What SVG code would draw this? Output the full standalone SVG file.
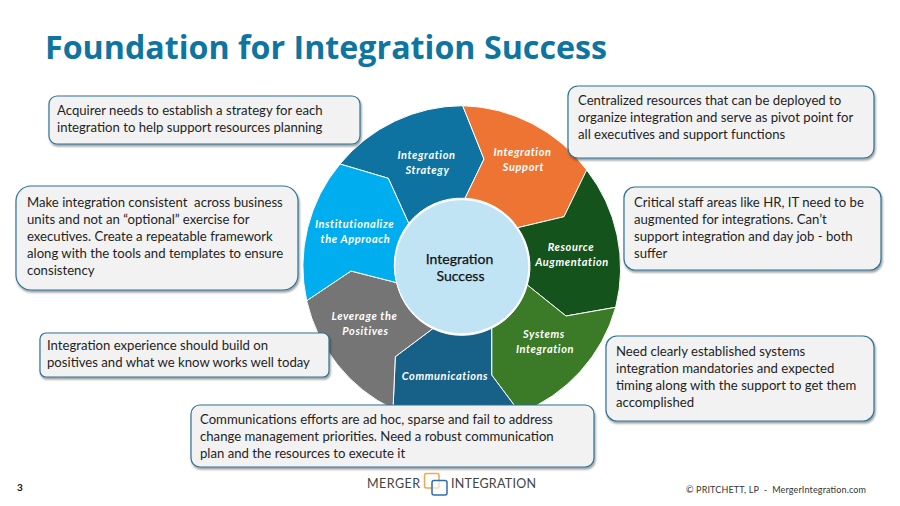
<svg xmlns="http://www.w3.org/2000/svg" width="900" height="506" viewBox="0 0 900 506">
<style>
text{font-family:"Lato","Liberation Sans",sans-serif}
.t{font-size:13.15px;fill:#1f1f1f}
.box{fill:#f2f2f2;stroke:#2f7296;stroke-width:1.2;filter:url(#sh)}
.seg{stroke:#fff;stroke-width:1}
.w{font-size:11px;font-weight:700;font-style:italic;fill:#fff;text-anchor:middle;letter-spacing:.6px}
.c{font-size:14px;fill:#111;stroke:#111;stroke-width:.25;text-anchor:middle}
</style>
<defs><filter id="sh" x="-5%" y="-10%" width="110%" height="125%"><feDropShadow dx="1" dy="2" stdDeviation="1.2" flood-color="#000" flood-opacity=".4"/></filter></defs>
<rect width="900" height="506" fill="#fff"/>
<text x="45" y="59" font-size="33" font-weight="700" fill="#0e75a0" style="font-family:'Open Sans',sans-serif" textLength="562" lengthAdjust="spacingAndGlyphs">Foundation for Integration Success</text>
<g id="connectors"/>
<g id="wheel">
<g id="seg-strategy"><path class="seg" fill="#0e73a0" d="M340 164A159.5 159.5 0 0 1 462.7 105.7L484 159L465 198.3A67 67 0 0 0 408.7 223.3L388.3 178.3Z"/><text class="w"><tspan x="426.5" y="159">Integration</tspan><tspan x="427.5" y="174">Strategy</tspan></text></g>
<g id="seg-support"><path class="seg" fill="#ed7433" d="M462.7 105.7A159.5 159.5 0 0 1 586.7 170L564 216.7L517.7 227.7A67 67 0 0 0 465 198.3L484 159Z"/><text class="w"><tspan x="522.5" y="156">Integration</tspan><tspan x="523.5" y="171">Support</tspan></text></g>
<g id="seg-resource"><path class="seg" fill="#14531c" d="M586.7 170A159.5 159.5 0 0 1 615.7 307.3L566 316L527.3 285A67 67 0 0 0 517.7 227.7L564 216.7Z"/><text class="w"><tspan x="571" y="251">Resource</tspan><tspan x="572" y="266">Augmentation</tspan></text></g>
<g id="seg-systems"><path class="seg" fill="#3b7a26" d="M615.7 307.3A159.5 159.5 0 0 1 520 413L491.7 375V328.3A67 67 0 0 0 527.3 285L566 316Z"/><text class="w"><tspan x="544" y="338">Systems</tspan><tspan x="545" y="353">Integration</tspan></text></g>
<g id="seg-communications"><path class="seg" fill="#176088" d="M520 413A159.5 159.5 0 0 1 393 409L395.3 356.7L432.7 328.7A67 67 0 0 0 491.7 328.3V375Z"/><text class="w" x="445" y="380">Communications</text></g>
<g id="seg-leverage"><path class="seg" fill="#757575" d="M393 409A159.5 159.5 0 0 1 306.7 300.7L351 271L396.7 282.7A67 67 0 0 0 432.7 328.7L395.3 356.7Z"/><text class="w"><tspan x="364.5" y="320">Leverage the</tspan><tspan x="365.5" y="335">Positives</tspan></text></g>
<g id="seg-institutionalize"><path class="seg" fill="#00aeef" d="M306.7 300.7A159.5 159.5 0 0 1 340 164L388.3 178.3L408.7 223.3A67 67 0 0 0 396.7 282.7L351 271Z"/><text class="w"><tspan x="354.5" y="228">Institutionalize</tspan><tspan x="355.5" y="243">the Approach</tspan></text></g>
<g id="center"><circle cx="461.7" cy="266.7" r="67" fill="#c1e4f5" stroke="#fff"/><text class="c"><tspan x="459.5" y="264">Integration</tspan><tspan x="460.5" y="281">Success</tspan></text></g>
</g>
<g id="box-strategy"><rect class="box" x="49" y="96" width="311" height="48" rx="8"/><text class="t"><tspan x="57" y="114.5">Acquirer needs to establish a strategy for each</tspan><tspan x="57" y="131.5">integration to help support resources planning</tspan></text></g>
<g id="box-support"><rect class="box" x="568" y="86" width="306" height="72" rx="10"/><text class="t"><tspan x="578" y="105">Centralized resources that can be deployed to</tspan><tspan x="578" y="122">organize integration and serve as pivot point for</tspan><tspan x="578" y="139">all executives and support functions</tspan></text></g>
<g id="box-institutionalize"><rect class="box" x="16" y="186" width="282" height="104" rx="15"/><text class="t"><tspan x="27" y="207">Make integration consistent&#160; across business</tspan><tspan x="27" y="224">units and not an “optional” exercise for</tspan><tspan x="27" y="241">executives. Create a repeatable framework</tspan><tspan x="27" y="258">along with the tools and templates to ensure</tspan><tspan x="27" y="275">consistency</tspan></text></g>
<g id="box-resource"><rect class="box" x="624" y="187" width="257" height="83" rx="11"/><text class="t"><tspan x="634" y="207">Critical staff areas like HR, IT need to be</tspan><tspan x="634" y="224">augmented for integrations. Can’t</tspan><tspan x="634" y="241">support integration and day job - both</tspan><tspan x="634" y="258">suffer</tspan></text></g>
<g id="box-leverage"><rect class="box" x="40" y="333" width="289" height="44" rx="6"/><text class="t"><tspan x="47" y="350">Integration experience should build on</tspan><tspan x="47" y="367">positives and what we know works well today</tspan></text></g>
<g id="box-systems"><rect class="box" x="606" y="336" width="268" height="85" rx="11"/><text class="t"><tspan x="616" y="356">Need clearly established systems</tspan><tspan x="616" y="373">integration mandatories and expected</tspan><tspan x="616" y="390">timing along with the support to get them</tspan><tspan x="616" y="407">accomplished</tspan></text></g>
<g id="box-communications"><rect class="box" x="191" y="405" width="403" height="62" rx="9"/><text class="t"><tspan x="200" y="424">Communications efforts are ad hoc, sparse and fail to address</tspan><tspan x="200" y="441">change management priorities. Need a robust communication</tspan><tspan x="200" y="458">plan and the resources to execute it</tspan></text></g>
<text x="17" y="491" font-size="10" font-weight="700" fill="#111">3</text>
<g id="logo"><text x="367" y="488" font-size="12.5" fill="#444" textLength="53">MERGER</text><rect x="424.5" y="473.5" width="14.5" height="14.5" rx="2" fill="none" stroke="#f5a54a" stroke-width="1.5"/><rect x="432" y="480.5" width="15" height="14.5" rx="2" fill="#fff" fill-opacity=".6" stroke="#2f6fa5" stroke-width="1.5"/><text x="451" y="488" font-size="12.5" fill="#444" textLength="85">INTEGRATION</text></g>
<text x="686" y="493" font-size="9" fill="#333" textLength="180">© PRITCHETT, LP&#160; -&#160; MergerIntegration.com</text>
</svg>
